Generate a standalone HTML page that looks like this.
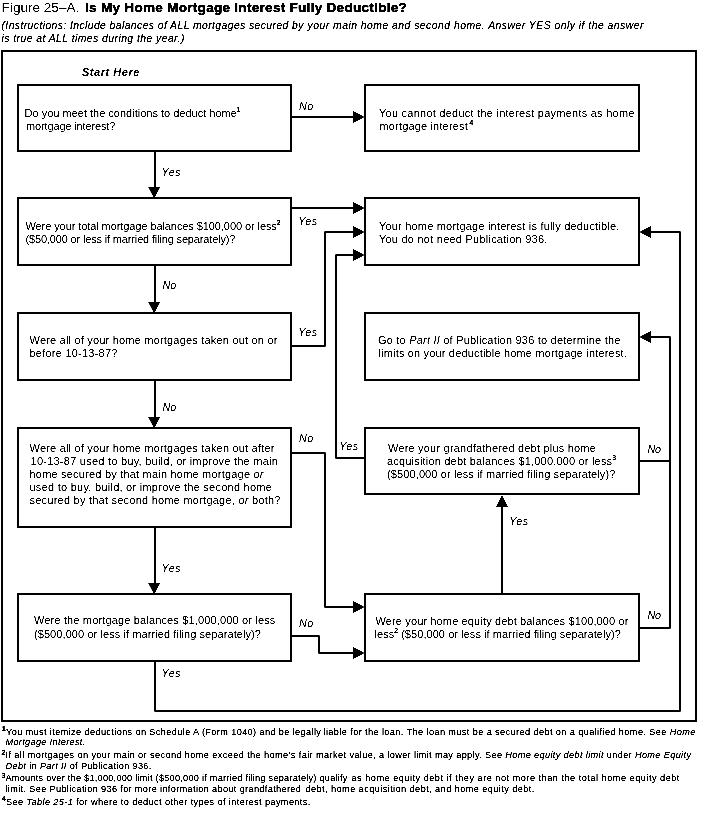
<!DOCTYPE html>
<html><head><meta charset="utf-8"><title>Figure 25-A. Is My Home Mortgage Interest Fully Deductible?</title>
<style>
html,body{margin:0;padding:0;background:#fff;}
svg{display:block;}
text{font-family:"Liberation Sans",sans-serif;fill:#000;white-space:pre;}
rect,polyline{fill:none;stroke:#000;stroke-width:2;stroke-linejoin:miter;}
polyline{stroke-linejoin:bevel;}
.ah{fill:#000;stroke:none;}
</style></head><body>
<svg width="721" height="813" viewBox="0 0 721 813">
<defs><filter id="bw" x="0" y="0" width="721" height="813" filterUnits="userSpaceOnUse" color-interpolation-filters="sRGB"><feComponentTransfer><feFuncA type="linear" slope="4" intercept="-1.4"/></feComponentTransfer></filter><filter id="bw2" x="0" y="0" width="721" height="813" filterUnits="userSpaceOnUse" color-interpolation-filters="sRGB"><feComponentTransfer><feFuncA type="linear" slope="4" intercept="-1.0"/></feComponentTransfer></filter></defs>
<rect x="0" y="0" width="721" height="813" style="fill:#fff;stroke:none"/>
<g filter="url(#bw)">
<rect x="2" y="51" width="694" height="670"/>
<rect x="18" y="85" width="273" height="66"/>
<rect x="18" y="198" width="273" height="67"/>
<rect x="18" y="313" width="273" height="67"/>
<rect x="18" y="428" width="273" height="99"/>
<rect x="18" y="594" width="273" height="67"/>
<rect x="365" y="85" width="274" height="66"/>
<rect x="365" y="198" width="274" height="67"/>
<rect x="365" y="313" width="274" height="67"/>
<rect x="365" y="428" width="274" height="66"/>
<rect x="365" y="594" width="274" height="67"/>
<polyline points="155,151 155,192"/>
<polygon class="ah" points="154.2,198.5 148.2,187.0 160.2,187.0"/>
<polyline points="155,265 155,307"/>
<polygon class="ah" points="154.2,313.5 148.2,302.0 160.2,302.0"/>
<polyline points="155,380 155,422"/>
<polygon class="ah" points="154.2,428.5 148.2,417.0 160.2,417.0"/>
<polyline points="155,527 155,588"/>
<polygon class="ah" points="154.2,594.5 148.2,583.0 160.2,583.0"/>
<polyline points="291,117 359,117"/>
<polygon class="ah" points="364.5,117 353.0,111 353.0,123"/>
<polyline points="291,208 359,208"/>
<polygon class="ah" points="364.5,208 353.0,202 353.0,214"/>
<polyline points="291,346 325,346 325,232 359,232"/>
<polygon class="ah" points="364.5,232 353.0,226 353.0,238"/>
<polyline points="291,453 325,453 325,607 359,607"/>
<polygon class="ah" points="364.5,607 353.0,601 353.0,613"/>
<polyline points="365,458 336,458 336,255 359,255"/>
<polygon class="ah" points="364.5,255 353.0,249 353.0,261"/>
<polyline points="291,636 319,636 319,653 359,653"/>
<polygon class="ah" points="364.5,653 353.0,647 353.0,659"/>
<polyline points="155,661 155,711 680,711 680,232 645,232"/>
<polygon class="ah" points="639.5,232 651.0,226 651.0,238"/>
<polyline points="639,628 670,628 670,337 645,337"/>
<polygon class="ah" points="639.5,337 651.0,331 651.0,343"/>
<polyline points="639,461 670,461"/>
<polyline points="502,594 502,500"/>
<polygon class="ah" points="502,495 496,507 508,507"/>
</g>
<g xml:space="preserve" filter="url(#bw)">
<text id="t0" x="1.6" y="11.6" font-size="13.6" letter-spacing="-0.011">Figure 25–A.</text>
<text id="t1" x="85.02" y="11.6" font-size="13.6" letter-spacing="0.253"><tspan font-weight="bold" stroke="#000" stroke-width="0.35">Is My Home Mortgage Interest Fully Deductible?</tspan></text>
<text id="t5" x="81.96" y="76" font-size="11" letter-spacing="0.54"><tspan font-weight="bold" font-style="italic">Start Here</tspan></text>
<text id="t6" x="24.58" y="116.7" font-size="11.0" letter-spacing="0.001">Do you meet the conditions to deduct home<tspan font-size="6.6" dy="-5.0" stroke="#000" stroke-width="0.3">1</tspan></text>
<text id="t7" x="26.0" y="129.6" font-size="11.0" letter-spacing="-0.139">mortgage interest?</text>
<text id="t8" x="25.48" y="230" font-size="11.0" letter-spacing="-0.082">Were your total mortgage balances $100,000 or less<tspan font-size="6.6" dy="-5.0" stroke="#000" stroke-width="0.3">2</tspan></text>
<text id="t9" x="25.48" y="243.1" font-size="11.0" letter-spacing="-0.155">($50,000 or less if married filing separately)?</text>
<text id="t10" x="29.5" y="343.6" font-size="11.0" letter-spacing="0.196">Were all of your home mortgages taken out on or</text>
<text id="t11" x="29.5" y="356.5" font-size="11.0" letter-spacing="0.233">before 10-13-87?</text>
<text id="t12" x="29.5" y="451.6" font-size="11.0" letter-spacing="0.198">Were all of your home mortgages taken out after</text>
<text id="t13" x="30.52" y="464.7" font-size="11.0" letter-spacing="0.245">10-13-87 used to buy, build, or improve the main</text>
<text id="t14" x="29.5" y="477.7" font-size="11.0" letter-spacing="0.203">home secured by that main home mortgage <tspan font-style="italic">or</tspan></text>
<text id="t15" x="29.5" y="491.1" font-size="11.0" letter-spacing="0.255">used to buy, build, or improve the second home</text>
<text id="t16" x="29.5" y="504.3" font-size="11.0" letter-spacing="0.235">secured by that second home mortgage, <tspan font-style="italic">or</tspan> both?</text>
<text id="t17" x="33.98" y="624.4" font-size="11.0" letter-spacing="0.154">Were the mortgage balances $1,000,000 or less</text>
<text id="t18" x="33.98" y="637.5" font-size="11.0" letter-spacing="0.081">($500,000 or less if married filing separately)?</text>
<text id="t19" x="378.96" y="116.7" font-size="11.0" letter-spacing="0.245">You cannot deduct the interest payments as home</text>
<text id="t20" x="379.5" y="129.6" font-size="11.0" letter-spacing="0.165">mortgage interest<tspan font-size="6.6" dy="-5.0" dx="1.6" stroke="#000" stroke-width="0.3">4</tspan></text>
<text id="t21" x="378.96" y="229.8" font-size="11.0" letter-spacing="0.191">Your home mortgage interest is fully deductible.</text>
<text id="t22" x="378.96" y="242.6" font-size="11.0" letter-spacing="0.235">You do not need Publication 936.</text>
<text id="t23" x="377.96" y="344" font-size="11.0" letter-spacing="0.21">Go to <tspan font-style="italic">Part II</tspan> of Publication 936 to determine the</text>
<text id="t24" x="378.5" y="356.7" font-size="11.0" letter-spacing="0.168">limits on your deductible home mortgage interest.</text>
<text id="t25" x="387.94" y="451.6" font-size="11.0" letter-spacing="0.204">Were your grandfathered debt plus home</text>
<text id="t26" x="387.04" y="464.6" font-size="11.0" letter-spacing="0.185">acquisition debt balances $1,000,000 or less<tspan font-size="6.6" dy="-5.0" stroke="#000" stroke-width="0.3">3</tspan></text>
<text id="t27" x="387.04" y="477.5" font-size="11.0" letter-spacing="0.11">($500,000 or less if married filing separately)?</text>
<text id="t28" x="375.44" y="624.7" font-size="11.0" letter-spacing="0.134">Were your home equity debt balances $100,000 or</text>
<text id="t29" x="374.48" y="637.6" font-size="11.0" letter-spacing="0.06">less<tspan font-size="6.6" dy="-5.0" stroke="#000" stroke-width="0.3">2</tspan><tspan dy="5.0"> ($50,000 or less if married filing separately)?</tspan></text>
<text id="t30" x="299.04" y="110" font-size="10.8" letter-spacing="0.45"><tspan font-style="italic">No</tspan></text>
<text id="t31" x="161.58" y="176" font-size="10.8" letter-spacing="0.45"><tspan font-style="italic">Yes</tspan></text>
<text id="t32" x="298.14" y="224.7" font-size="10.8" letter-spacing="0.45"><tspan font-style="italic">Yes</tspan></text>
<text id="t33" x="162.48" y="288.9" font-size="10.8" letter-spacing="0.09"><tspan font-style="italic">No</tspan></text>
<text id="t34" x="298.14" y="335.5" font-size="10.8" letter-spacing="0.45"><tspan font-style="italic">Yes</tspan></text>
<text id="t35" x="162.48" y="411" font-size="10.8" letter-spacing="0.09"><tspan font-style="italic">No</tspan></text>
<text id="t36" x="299.04" y="441.7" font-size="10.8" letter-spacing="0.45"><tspan font-style="italic">No</tspan></text>
<text id="t37" x="339.14" y="449.7" font-size="10.8" letter-spacing="0.45"><tspan font-style="italic">Yes</tspan></text>
<text id="t38" x="647.5" y="452.8" font-size="10.8" letter-spacing="-0.3"><tspan font-style="italic">No</tspan></text>
<text id="t39" x="509.14" y="524.8" font-size="10.8" letter-spacing="0.45"><tspan font-style="italic">Yes</tspan></text>
<text id="t40" x="161.58" y="571.8" font-size="10.8" letter-spacing="0.45"><tspan font-style="italic">Yes</tspan></text>
<text id="t41" x="299.04" y="626.8" font-size="10.8" letter-spacing="0.45"><tspan font-style="italic">No</tspan></text>
<text id="t42" x="647.5" y="618.8" font-size="10.8" letter-spacing="-0.3"><tspan font-style="italic">No</tspan></text>
<text id="t43" x="161.58" y="676.9" font-size="10.8" letter-spacing="0.45"><tspan font-style="italic">Yes</tspan></text>
</g>
<g xml:space="preserve" filter="url(#bw2)">
<text id="t2" x="1.5" y="28.6" font-size="10.4" letter-spacing="0.406"><tspan font-style="italic">(Instructions: Include balances of ALL mortgages secured by</tspan></text>
<text id="t3" x="307.52" y="28.6" font-size="10.4" letter-spacing="0.477"><tspan font-style="italic">your main home and second home. Answer YES only if the answer</tspan></text>
<text id="t4" x="1.5" y="41.7" font-size="10.4" letter-spacing="0.443"><tspan font-style="italic">is true at ALL times during the year.)</tspan></text>
<text id="t44" x="2.0" y="734.5" font-size="9.2" letter-spacing="0.367"><tspan font-size="6.6" dy="-3.2" stroke="#000" stroke-width="0.3">1</tspan><tspan dy="3.2">You must itemize deductions on Schedule A (Form 1040) and be legally</tspan></text>
<text id="t45" x="323.48" y="734.5" font-size="9.2" letter-spacing="0.388">liable for the loan. The loan must be a secured debt on a qualified home. See <tspan font-style="italic">Home</tspan></text>
<text id="t46" x="5.48" y="745.3" font-size="9.2" letter-spacing="0.308"><tspan font-style="italic">Mortgage Interest.</tspan></text>
<text id="t47" x="1.5" y="757.9" font-size="9.2" letter-spacing="0.384"><tspan font-size="6.6" dy="-3.2" stroke="#000" stroke-width="0.3">2</tspan><tspan dy="3.2">If all mortgages on your main or second home exceed the home’s fair market</tspan></text>
<text id="t48" x="349.48" y="757.9" font-size="9.2" letter-spacing="0.348">value, a lower limit may apply. See <tspan font-style="italic">Home equity debt limit</tspan> under <tspan font-style="italic">Home Equity</tspan></text>
<text id="t49" x="5.48" y="768.9" font-size="9.2" letter-spacing="0.34"><tspan font-style="italic">Debt</tspan> in <tspan font-style="italic">Part II</tspan> of Publication 936.</text>
<text id="t50" x="1.5" y="780.9" font-size="9.2" letter-spacing="0.241"><tspan font-size="6.6" dy="-3.2" stroke="#000" stroke-width="0.3">3</tspan><tspan dy="3.2">Amounts over the $1,000,000 limit ($500,000 if married filing separately) qualify</tspan></text>
<text id="t51" x="351.46" y="780.9" font-size="9.2" letter-spacing="0.49">as home equity debt if they are not more than the total home equity debt</text>
<text id="t52" x="5.48" y="791.7" font-size="9.2" letter-spacing="0.336">limit. See Publication 936 for more information about grandfathered</text>
<text id="t53" x="305.52" y="791.7" font-size="9.2" letter-spacing="0.417">debt, home acquisition debt, and home equity debt.</text>
<text id="t54" x="1.92" y="804.5" font-size="9.2" letter-spacing="0.378"><tspan font-size="6.6" dy="-3.2" stroke="#000" stroke-width="0.3">4</tspan><tspan dy="3.2">See </tspan><tspan font-style="italic">Table 25-1</tspan> for where to deduct other types of interest payments.</text>
</g>
</svg>
</body></html>
